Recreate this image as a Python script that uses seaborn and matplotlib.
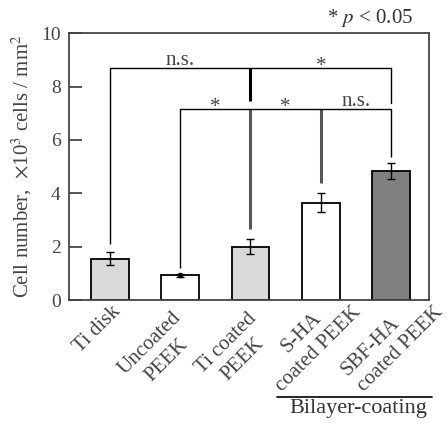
import numpy as np
import pandas as pd
import seaborn as sns
import matplotlib.pyplot as plt
from matplotlib.transforms import ScaledTranslation

sns.set_style("white")
plt.rcParams['font.family'] = ['Liberation Serif', 'DejaVu Serif']
plt.rcParams['mathtext.fontset'] = 'stix'

# data
groups = ["Ti disk", "Uncoated\nPEEK", "Ti coated\nPEEK", "S-HA\ncoated PEEK", "SBF-HA\ncoated PEEK"]
cell_number = [1.55, 0.93, 2.0, 3.65, 4.85]
sd = [0.25, 0.05, 0.27, 0.35, 0.3]
bar_colors = ["#d9d9d9", "#ffffff", "#d9d9d9", "#ffffff", "#808080"]

# significance brackets: (left group, right group, height, label)
brackets = [(0, 2, 8.69, "n.s."), (2, 4, 8.69, "*"),
            (1, 2, 7.15, "*"), (2, 3, 7.15, "*"), (3, 4, 7.15, "n.s.")]
drop_ends = [2.1, 1.2, 2.65, 4.4, 5.35]

df = pd.DataFrame({"group": groups, "cells": cell_number})

fig = plt.figure(figsize=(4.48, 4.25), dpi=100)
ax = fig.add_axes([0.154, 0.294, 0.804, 0.628])

sns.barplot(data=df, x="group", y="cells", hue="group", palette=bar_colors,
            edgecolor="black", linewidth=1.3, width=0.54, legend=False, ax=ax)
ax.errorbar(range(len(groups)), cell_number, yerr=sd, fmt="none",
            ecolor="black", elinewidth=1.0, capsize=3)
ax.plot(1, cell_number[1], "o", color="black", ms=3)

ax.set_xlim(-0.58, 4.54)
ax.set_ylim(0, 10)
ax.set_yticks([0, 2, 4, 6, 8, 10])
ax.tick_params(axis="y", direction="in", length=9, width=1.3, color="#444444",
               labelsize=14, labelcolor="#444444", left=True, pad=6)
ax.tick_params(axis="x", length=0, pad=0, labelsize=15, labelcolor="#444444")
ax.set_xticks(range(len(groups)))
ax.set_xticklabels(groups, rotation=45, linespacing=1.3)

# hand placed label centres (px offsets from bar centre / axis bottom)
label_shift = [(-13, 29), (-22, 52), (-16, 51), (-11, 41), (1, 41)]
for lab, (dx, dy) in zip(ax.get_xticklabels(), label_shift):
    lab.set_ha("center")
    lab.set_va("center")
    lab.set_rotation_mode("anchor")
    lab.set_multialignment("center")
    lab.set_transform(lab.get_transform() +
                      ScaledTranslation(dx / 100, -dy / 100, fig.dpi_scale_trans))
ax.get_xticklabels()[-1].set_multialignment("left")

for s in ax.spines.values():
    s.set_color("#444444")
    s.set_linewidth(1.3)
ax.set_xlabel("")
ax.set_ylabel(r"Cell number,  $\times$10$^3$ cells / mm$^2$", fontsize=15,
              color="#444444", labelpad=5)

# vertical drop lines from brackets to bars
for i, end in enumerate(drop_ends):
    lw = 2.2 if i in (2, 3) else 1.0
    col = "#555555" if i in (2, 3) else "black"
    ax.plot([i, i], [end, 7.15 if i != 0 else 8.69], color=col, lw=lw, solid_capstyle="butt")
ax.plot([2, 2], [7.45, 8.69], color="black", lw=2.2, solid_capstyle="butt")
ax.plot([4, 4], [7.4, 8.69], color="black", lw=1.0)
for a, b, h, txt in brackets:
    ax.plot([a, b], [h, h], color="black", lw=1.0)
    yb = h + 0.11 if txt != "*" else h - 0.12
    ax.text((a + b) / 2, yb, txt, ha="center", va="baseline", fontsize=15,
            color="#444444")

fig.text(0.922, 0.958, r"* $\it{p}$ < 0.05", ha="right", va="center", fontsize=15,
         color="#333333")

# bilayer-coating group line
y_line = 1 - 397 / 425
x0 = 277 / 448
x1 = 432 / 448
fig.add_artist(plt.Line2D([x0, x1], [y_line, y_line], color="black", lw=1.2,
                          transform=fig.transFigure))
fig.text(358 / 448, 1 - 409 / 425, "Bilayer-coating", ha="center", va="center",
         fontsize=16, color="#333333")

fig.savefig("out.png", dpi=100)
